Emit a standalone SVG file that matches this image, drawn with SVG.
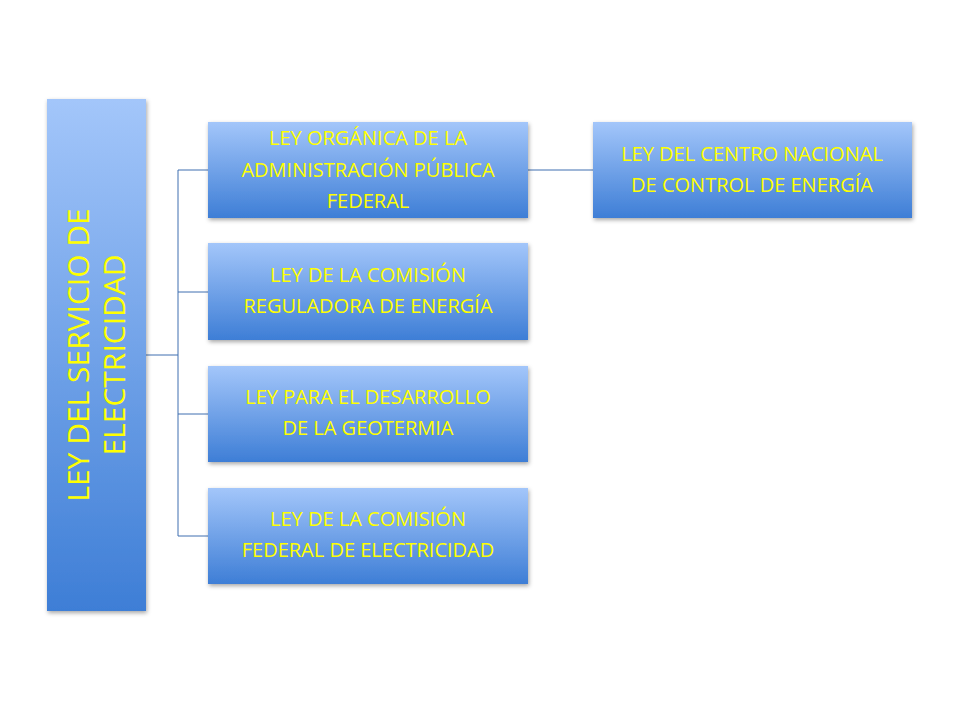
<svg xmlns="http://www.w3.org/2000/svg" width="960" height="720" viewBox="0 0 960 720">
<defs>
<linearGradient id="g" x1="0" y1="0" x2="0" y2="1"><stop offset="0" stop-color="#a3c6fa"/><stop offset="1" stop-color="#3e7ed6"/></linearGradient>
<linearGradient id="gh" x1="0" y1="0" x2="0" y2="1"><stop offset="0" stop-color="#a3c6fa"/><stop offset="1" stop-color="#3e7ed6"/></linearGradient>
<filter id="sh" x="-10%" y="-10%" width="130%" height="130%"><feDropShadow dx="1" dy="2" stdDeviation="2" flood-color="#000" flood-opacity="0.35"/></filter>
<style>
.b{fill:url(#g);filter:url(#sh)}
.t{fill:#ffff00;font-family:"Open Sans","Liberation Sans",sans-serif;font-size:20px;text-anchor:middle}
.c{stroke:#3e6fb0;stroke-width:1;fill:none}
</style>
</defs>
<rect width="960" height="720" fill="#fff"/>
<g id="connectors">
<path class="c" d="M146,355H178M178,170V536M178,170H208M178,292H208M178,414H208M178,536H208M528,170H593"/>
</g>
<g id="root"><rect class="b" x="47" y="99" width="99" height="512"/>
<text class="t" style="font-size:30px" transform="translate(97,355) rotate(-90)"><tspan x="0" y="-8">LEY DEL SERVICIO DE</tspan><tspan x="0" y="28">ELECTRICIDAD</tspan></text></g>
<g id="n1"><rect class="b" x="208" y="122" width="320" height="96"/><text class="t"><tspan x="368" y="145">LEY ORGÁNICA DE LA</tspan><tspan x="368" y="177">ADMINISTRACIÓN PÚBLICA</tspan><tspan x="368" y="208">FEDERAL</tspan></text></g>
<g id="n2"><rect class="b" x="208" y="243" width="320" height="97"/><text class="t"><tspan x="368" y="282">LEY DE LA COMISIÓN</tspan><tspan x="368" y="313">REGULADORA DE ENERGÍA</tspan></text></g>
<g id="n3"><rect class="b" x="208" y="366" width="320" height="96"/><text class="t"><tspan x="368" y="404">LEY PARA EL DESARROLLO</tspan><tspan x="368" y="435">DE LA GEOTERMIA</tspan></text></g>
<g id="n4"><rect class="b" x="208" y="488" width="320" height="96"/><text class="t"><tspan x="368" y="526">LEY DE LA COMISIÓN</tspan><tspan x="368" y="557">FEDERAL DE ELECTRICIDAD</tspan></text></g>
<g id="n5"><rect class="b" x="593" y="122" width="319" height="96"/><text class="t"><tspan x="752" y="161">LEY DEL CENTRO NACIONAL</tspan><tspan x="752" y="192">DE CONTROL DE ENERGÍA</tspan></text></g>
</svg>
